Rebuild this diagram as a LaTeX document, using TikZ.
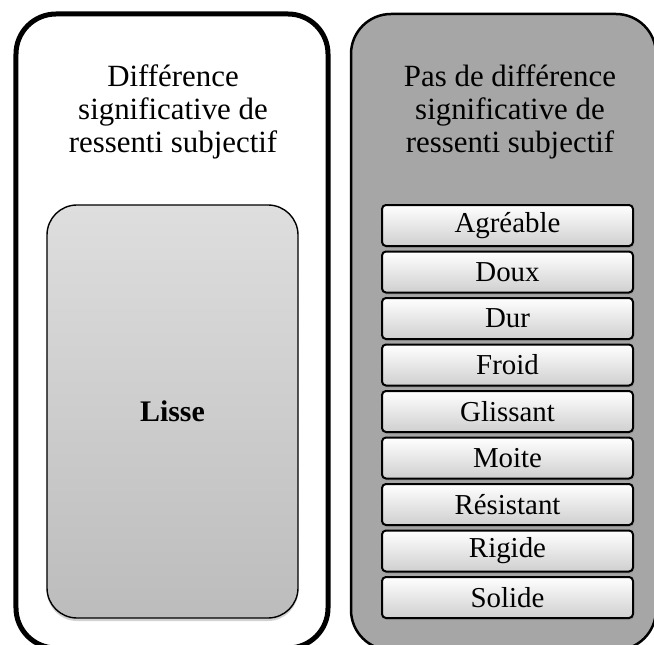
\documentclass[tikz,border=0pt]{standalone}
\usepackage{fontspec}
\setmainfont{Liberation Serif}
\usetikzlibrary{shadows}
\definecolor{rightgray}{HTML}{A6A6A6}
\definecolor{lissetop}{HTML}{DEDEDE}
\definecolor{lissebot}{HTML}{BCBCBC}
\definecolor{itembot}{HTML}{CFCFCF}
\begin{document}
\begin{tikzpicture}[x=1bp,y=-1bp,
  outerbox/.style={draw=black,rounded corners=40bp,inner sep=0pt,outer sep=0pt},
  titletext/.style={align=center,inner sep=0pt,anchor=north,font=\fontsize{31}{33}\selectfont},
  lissebox/.style={draw=black,line width=1.4bp,rounded corners=30bp,top color=lissetop,bottom color=lissebot,
    minimum width=251bp,minimum height=413bp,inner sep=0pt,
    drop shadow={shadow xshift=0bp,shadow yshift=-3bp,opacity=0.35},font=\fontsize{30}{32}\selectfont\bfseries},
  itembox/.style={draw=black,line width=2bp,rounded corners=4bp,top color=white,bottom color=itembot,
    minimum width=251bp,minimum height=41bp,inner sep=0pt,
    drop shadow={shadow xshift=1bp,shadow yshift=-2bp,opacity=0.3},font=\fontsize{29}{31}\selectfont}
]
\useasboundingbox (0,0) rectangle (654,645);
\node[outerbox,line width=5bp,fill=white,minimum width=312bp,minimum height=634bp] (left) at (172,331) {};
\node[outerbox,line width=2.5bp,fill=rightgray,minimum width=305bp,minimum height=636bp] (right) at (503.5,332) {};
\node[titletext] (lefttitle) at (173,65) {Différence\\significative de\\ressenti subjectif};
\node[titletext] (righttitle) at (510,65) {Pas de différence\\significative de\\ressenti subjectif};
\node[lissebox] (lisse) at (172.5,411.5) {Lisse};
\foreach \t [count=\i from 0] in {Agréable,Doux,Dur,Froid,Glissant,Moite,Résistant,Rigide,Solide}{
  \node[itembox] (item\i) at (507.5,225.5+46.5*\i) {\t};
}
\end{tikzpicture}
\end{document}
